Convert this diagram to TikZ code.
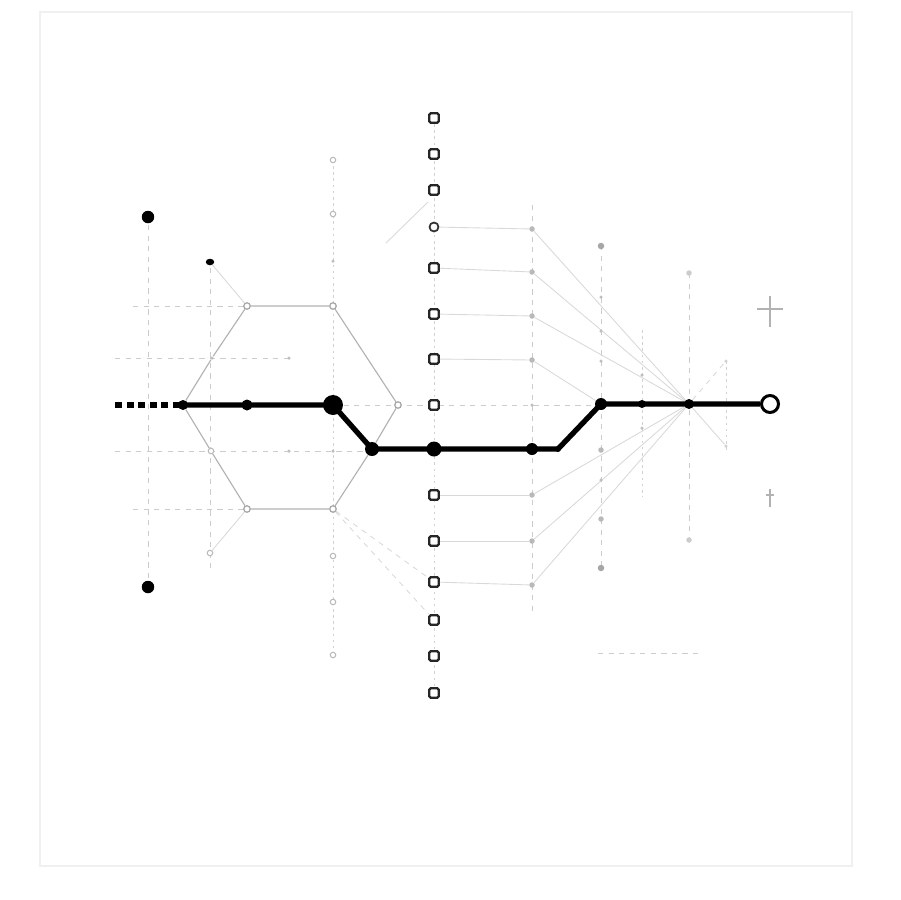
\documentclass[tikz,border=0pt]{standalone}
\usetikzlibrary{positioning}
\usetikzlibrary{shapes.geometric}
\begin{document}
\begin{tikzpicture}[x=0.02cm,y=-0.02cm,
  guide/.style={gray!40,line width=0.5pt,dash pattern=on 3pt off 3pt},
  dotguide/.style={gray!35,line width=0.45pt,dash pattern=on 1.5pt off 2pt},
  faint/.style={gray!30,line width=0.5pt},
  hexline/.style={gray!60,line width=0.65pt},
  mainline/.style={line width=3pt,line join=round},
  bigdot/.style={circle,fill=black,inner sep=0pt},
  hexpt/.style={circle,draw=gray!70,fill=white,line width=0.7pt,inner sep=0pt,minimum size=0.13cm},
  smallpt/.style={circle,draw=gray!55,fill=white,line width=0.6pt,inner sep=0pt,minimum size=0.11cm},
  gdot/.style={circle,fill=gray!55,inner sep=0pt,minimum size=0.11cm},
  tinydot/.style={circle,fill=gray!50,inner sep=0pt,minimum size=0.07cm},
  sqbox/.style={draw=black!85,fill=white,line width=1.3pt,rounded corners=0.8pt,inner sep=0pt,minimum size=0.19cm},
]
\useasboundingbox (0,0) rectangle (900,900);
\draw[gray!12,line width=0.6pt] (40,12) rectangle (852,866);

% guides
\draw[guide] (148,225) -- (148,580);
\draw[guide] (210,268) -- (210,570);
\draw[guide] (133,306) -- (247,306);
\draw[guide] (115,358) -- (289,358);
\draw[guide] (115,451) -- (372,451);
\draw[guide] (133,509) -- (247,509);
\draw[guide] (333,405) -- (601,405);
\draw[dotguide] (333,160) -- (333,655);
\draw[dotguide] (434,118) -- (434,693);
\draw[guide] (532,205) -- (532,612);
\draw[guide] (601,245) -- (601,568);
\draw[dotguide] (642,330) -- (642,497);
\draw[guide] (689,273) -- (689,545);
\draw[dotguide] (726,361) -- (726,453);
\draw[guide] (598,653) -- (703,653);
\draw[faint] (386,243) -- (428,202);

% main path nodes
\node[bigdot,minimum size=0.2cm]  (l1)  at (183,405) {};
\node[bigdot,minimum size=0.22cm] (l2)  at (247,405) {};
\node[bigdot,minimum size=0.4cm]  (l3)  at (333,405) {};
\node[bigdot,minimum size=0.28cm] (l4)  at (372,449) {};
\node[bigdot,minimum size=0.3cm]  (l5)  at (434,449) {};
\node[bigdot,minimum size=0.24cm] (l6)  at (532,449) {};
\node[bigdot,minimum size=0.12cm] (l7)  at (558,449) {};
\node[bigdot,minimum size=0.24cm] (l8)  at (601,404) {};
\node[bigdot,minimum size=0.16cm] (l9)  at (642,404) {};
\node[bigdot,minimum size=0.2cm]  (l10) at (689,404) {};
\node[circle,draw=black,fill=white,line width=1.7pt,inner sep=0pt,minimum size=0.34cm] (l11) at (770,404) {};
\coordinate (l0) at (115,405);

% left posts
\node[bigdot,minimum size=0.25cm] (p1) at (148,217) {};
\node[bigdot,minimum size=0.25cm] (p2) at (148,587) {};
\node[ellipse,fill=black,inner sep=0pt,minimum width=0.17cm,minimum height=0.13cm] (t1) at (210,262) {};
\node[smallpt] (t2) at (210,553) {};

% hexagon
\node[hexpt] (h1) at (247,306) {};
\node[hexpt] (h2) at (333,306) {};
\node[hexpt] (h3) at (398,405) {};
\node[hexpt] (h4) at (333,509) {};
\node[hexpt] (h5) at (247,509) {};
\node[tinydot] (m1) at (212,358) {};
\node[smallpt] (m2) at (211,451) {};
\draw[hexline] (l1) -- (m1) -- (h1) -- (h2) -- (h3) -- (l4) -- (h4) -- (h5) -- (m2) -- (l1);
\draw[faint] (t1) -- (h1);
\draw[faint] (t2) -- (h5);

% column at x=333
\foreach \y in {160,214,556,602,655}
  \node[smallpt] at (333,\y) {};
\node[tinydot] at (333,261) {};
\node[tinydot] at (333,451) {};
\node[tinydot] at (289,358) {};
\node[tinydot] at (289,451) {};

% squares
\foreach \y [count=\i] in {118,154,190,268,314,359,405,495,541,582,620,656,693}
  \node[sqbox] (q\i) at (434,\y) {};
\node[circle,draw=black!80,fill=white,line width=1pt,inner sep=0pt,minimum size=0.18cm] (qo) at (434,227) {};
\draw[faint,dashed] (h4) -- (q10);
\draw[faint,dashed] (h4) -- (q11);

% column at x=532
\foreach \y/\n in {229/1,272/2,316/3,360/4,495/7,541/8,585/9}
  \node[gdot] (b\n) at (532,\y) {};
\node[tinydot] (b5) at (532,405) {};
\draw[faint] (qo) -- (b1);
\draw[faint] (q4) -- (b2);
\draw[faint] (q5) -- (b3);
\draw[faint] (q6) -- (b4);
\draw[faint] (q8) -- (b7);
\draw[faint] (q9) -- (b8);
\draw[faint] (q10) -- (b9);

% fan
\foreach \n in {1,2,3,7,8,9}
  \draw[faint] (b\n) -- (l10);
\draw[faint] (b4) -- (l8);

% column at x=601
\node[circle,fill=gray!70,inner sep=0pt,minimum size=0.13cm] at (601,246) {};
\node[circle,fill=gray!70,inner sep=0pt,minimum size=0.13cm] at (601,568) {};
\foreach \y in {297,331,361,480}
  \node[tinydot] at (601,\y) {};
\node[gdot] at (601,450) {};
\node[gdot] at (601,519) {};
\node[tinydot] at (642,375) {};
\node[tinydot] at (642,428) {};

% right side
\node[gdot,fill=gray!40] at (689,273) {};
\node[gdot,fill=gray!40] at (689,540) {};
\node[tinydot,fill=gray!35] (r1) at (726,361) {};
\node[tinydot,fill=gray!35] (r2) at (726,446) {};
\draw[faint,dashed] (l10) -- (r1);
\draw[faint] (l10) -- (r2);

% main line
\draw[mainline,dash pattern=on 4pt off 2.6pt] (l0) -- (l1.center);
\draw[mainline] (l1.center) -- (l2.center) -- (l3.center) -- (l4.center) -- (l5.center)
  -- (l6.center) -- (l7.center) -- (l8.center) -- (l9.center) -- (l10.center) -- (l11);

% crosses
\draw[gray!60,line width=0.8pt] (757,309) -- (783,309) (770,296) -- (770,327);
\draw[gray!60,line width=0.8pt] (766,495) -- (774,495) (770,489) -- (770,507);
\end{tikzpicture}
\end{document}
